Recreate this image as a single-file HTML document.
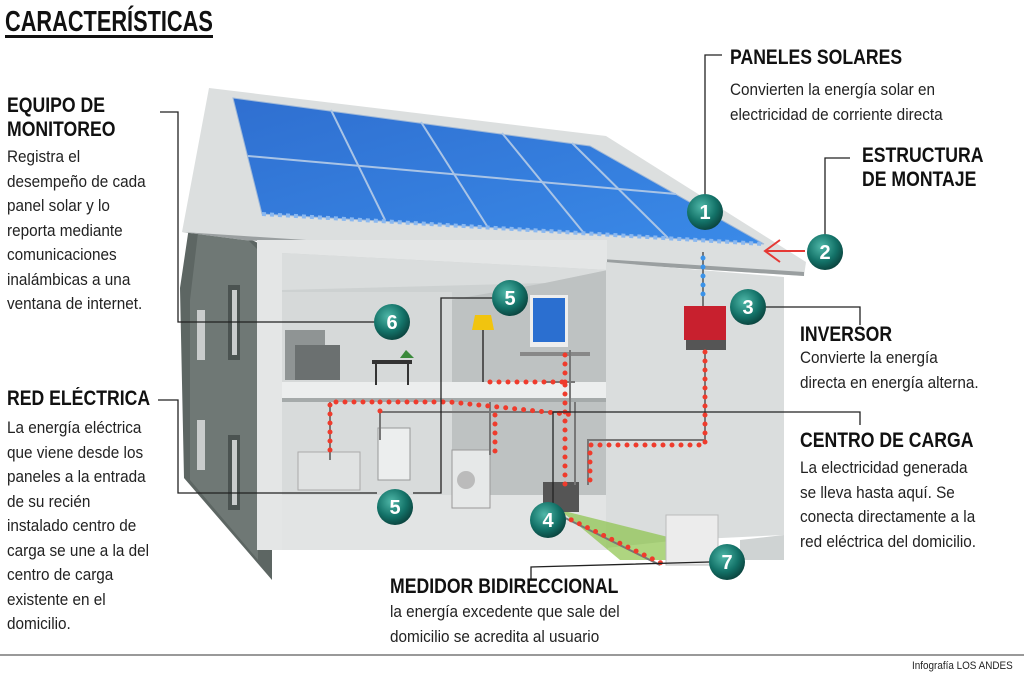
<!DOCTYPE html>
<html><head><meta charset="utf-8"><style>
body{margin:0;width:1024px;height:675px;background:#fff;position:relative;overflow:hidden;font-family:"Liberation Sans",sans-serif;color:#222}
.t{position:absolute;white-space:nowrap;transform-origin:0 0}
.h{font-weight:bold;font-size:21px;transform:scaleX(.84);color:#111;line-height:24px}
.b{font-size:17px;transform:scaleX(.9);line-height:24.5px;color:#222}
svg{position:absolute;left:0;top:0}
</style></head><body>
<svg width="1024" height="675" viewBox="0 0 1024 675">
<defs>
<linearGradient id="pan" x1="0" y1="0" x2="1" y2="1"><stop offset="0" stop-color="#2f6fd0"/><stop offset="1" stop-color="#3a8ae8"/></linearGradient>
<radialGradient id="ball" cx=".4" cy=".35" r=".7"><stop offset="0" stop-color="#4fb7a8"/><stop offset=".6" stop-color="#137268"/><stop offset="1" stop-color="#0a3f3a"/></radialGradient>
</defs>
<polygon points="209,92 244,236 272,250 272,580 184,478 180,288" fill="#5d6663"/>
<polygon points="190,300 209,140 244,236 258,250 258,560 190,480" fill="#6f7875"/>
<polygon points="209,88 606,136 806,262 804,276 244,240 182,232" fill="#dcdfdf"/>
<polygon points="182,232 244,240 804,276 804,272 244,236" fill="#9a9fa0"/>
<polygon points="233,98 590,146 764,244 262,214" fill="url(#pan)" stroke="#9fb8d8" stroke-width="1"/>
<g stroke="#a9c4e6" stroke-width="2">
<line x1="331" y1="110" x2="385" y2="220"/><line x1="421" y1="122" x2="487" y2="226"/><line x1="502" y1="133" x2="583" y2="232"/><line x1="572" y1="143" x2="668" y2="238"/>
<line x1="248" y1="156" x2="676" y2="194"/>
</g>
<line x1="262" y1="214" x2="764" y2="244" stroke="#8ab8f0" stroke-width="4" stroke-dasharray="4 4"/>
<rect x="257" y="240" width="350" height="310" fill="#e4e6e6"/>
<polygon points="282,253 608,270 608,545 282,547" fill="#cdd1d1"/>
<polygon points="282,253 608,270 545,283 282,290" fill="#dadddd"/>
<polygon points="450,300 545,283 608,270 608,545 450,545" fill="#bec2c2"/>
<rect x="282" y="292" width="170" height="95" fill="#d6d9d9"/>
<rect x="282" y="400" width="170" height="95" fill="#d8dbdb"/>
<rect x="282" y="382" width="325" height="16" fill="#eceeee"/>
<rect x="282" y="398" width="325" height="4" fill="#a5aaaa"/>
<polygon points="282,495 608,495 608,550 282,550" fill="#e2e4e4"/>
<polygon points="606,262 784,277 784,535 680,540 606,548" fill="#dadddd"/>
<polygon points="740,540 784,535 784,560 740,560" fill="#cfd3d3"/>
<polygon points="560,510 680,540 700,560 620,560" fill="#8bc34a" opacity=".7"/>
<rect x="228" y="285" width="12" height="75" fill="#4b5351"/><rect x="232" y="290" width="5" height="65" fill="#c9cccc"/>
<rect x="228" y="435" width="12" height="75" fill="#4b5351"/><rect x="232" y="440" width="5" height="65" fill="#c9cccc"/>
<rect x="197" y="310" width="8" height="50" fill="#c9cccc"/><rect x="197" y="420" width="8" height="50" fill="#c9cccc"/>
<rect x="285" y="330" width="40" height="50" fill="#8f9494"/><rect x="295" y="345" width="45" height="35" fill="#6b7070"/>
<rect x="372" y="360" width="40" height="4" fill="#333"/><line x1="376" y1="364" x2="376" y2="385" stroke="#333" stroke-width="2"/><line x1="408" y1="364" x2="408" y2="385" stroke="#333" stroke-width="2"/>
<polygon points="400,358 406,350 414,358" fill="#3b8a3b"/>
<polygon points="475,315 491,315 494,330 472,330" fill="#f1c40f"/><line x1="483" y1="330" x2="483" y2="382" stroke="#555" stroke-width="2"/>
<rect x="530" y="295" width="38" height="52" fill="#eee"/><rect x="533" y="298" width="32" height="44" fill="#2b6fd0"/>
<rect x="520" y="352" width="70" height="4" fill="#888"/>
<rect x="298" y="452" width="62" height="38" fill="#e0e2e2" stroke="#aaa"/>
<rect x="378" y="428" width="32" height="52" fill="#eceeee" stroke="#999"/>
<rect x="452" y="450" width="38" height="58" fill="#e6e8e8" stroke="#999"/><circle cx="466" cy="480" r="9" fill="#bbb"/>
<rect x="543" y="482" width="36" height="30" fill="#555"/>
<rect x="666" y="515" width="52" height="50" fill="#ececec" stroke="#bbb"/>
<rect x="684" y="306" width="42" height="34" fill="#c8202e"/><rect x="686" y="340" width="40" height="10" fill="#555"/>
<g fill="none" stroke="#777" stroke-width="2">
<path d="M703 252 V306"/><path d="M705 350 V440 H588 V485"/><path d="M570 350 V412 H380 V440 M330 402 V460 M575 402 V485 M490 402 V455 M545 382 H575"/><path d="M553 512 L660 565"/>
</g>
<g fill="none" stroke="#ef3b2c" stroke-width="5" stroke-linecap="round" stroke-dasharray="0 9">
<path d="M705 352 V445 H590 V485"/><path d="M565 355 V385 M490 382 H565 M565 385 V485"/><path d="M330 450 V402 H380 M380 402 V420 M380 402 H450 L575 415 M495 415 V455"/><path d="M555 512 L665 565"/>
</g>
<g fill="none" stroke="#3a93ea" stroke-width="5" stroke-linecap="round" stroke-dasharray="0 9"><path d="M703 258 V302"/></g>
<g stroke="#e53935" stroke-width="2" fill="none"><line x1="765" y1="251" x2="805" y2="251"/><polyline points="780,240 765,251 780,262"/></g>
<g fill="none" stroke="#222" stroke-width="1.3">
<polyline points="705,195 705,55 722,55"/>
<polyline points="825,236 825,158 850,158"/>
<polyline points="766,307 860,307 860,325"/>
<polyline points="160,112 178,112 178,322 376,322"/>
<polyline points="492,298 441,298 441,493 413,493"/>
<polyline points="158,400 178,400 178,493 377,493"/>
<polyline points="553,505 553,412 860,412 860,425"/>
<polyline points="709,562 531,567 531,580"/>
</g>
<g font-family="Liberation Sans" font-weight="bold" font-size="20" fill="#fff" text-anchor="middle">
<circle cx="705" cy="212" r="18" fill="url(#ball)"/><text x="705" y="219">1</text>
<circle cx="825" cy="252" r="18" fill="url(#ball)"/><text x="825" y="259">2</text>
<circle cx="748" cy="307" r="18" fill="url(#ball)"/><text x="748" y="314">3</text>
<circle cx="548" cy="520" r="18" fill="url(#ball)"/><text x="548" y="527">4</text>
<circle cx="510" cy="298" r="18" fill="url(#ball)"/><text x="510" y="305">5</text>
<circle cx="395" cy="507" r="18" fill="url(#ball)"/><text x="395" y="514">5</text>
<circle cx="392" cy="322" r="18" fill="url(#ball)"/><text x="392" y="329">6</text>
<circle cx="727" cy="562" r="18" fill="url(#ball)"/><text x="727" y="569">7</text>
</g>
<rect x="5" y="35" width="208" height="3" fill="#111"/>
<line x1="0" y1="655" x2="1024" y2="655" stroke="#333" stroke-width="1"/>
</svg>
<div class="t h" style="left:5px;top:7px;font-size:29px;line-height:30px;transform:scaleX(.75)">CARACTERÍSTICAS</div>
<div class="t h" style="left:7px;top:94px">EQUIPO DE<br>MONITOREO</div>
<div class="t b" style="left:7px;top:145px">Registra el<br>desempeño de cada<br>panel solar y lo<br>reporta mediante<br>comunicaciones<br>inalámbicas a una<br>ventana de internet.</div>
<div class="t h" style="left:7px;top:387px">RED ELÉCTRICA</div>
<div class="t b" style="left:7px;top:416px">La energía eléctrica<br>que viene desde los<br>paneles a la entrada<br>de su recién<br>instalado centro de<br>carga se une a la del<br>centro de carga<br>existente en el<br>domicilio.</div>
<div class="t h" style="left:730px;top:46px">PANELES SOLARES</div>
<div class="t b" style="left:730px;top:78px">Convierten la energía solar en<br>electricidad de corriente directa</div>
<div class="t h" style="left:862px;top:144px">ESTRUCTURA<br>DE MONTAJE</div>
<div class="t h" style="left:800px;top:323px">INVERSOR</div>
<div class="t b" style="left:800px;top:346px">Convierte la energía<br>directa en energía alterna.</div>
<div class="t h" style="left:800px;top:429px">CENTRO DE CARGA</div>
<div class="t b" style="left:800px;top:456px">La electricidad generada<br>se lleva hasta aquí. Se<br>conecta directamente a la<br>red eléctrica del domicilio.</div>
<div class="t h" style="left:390px;top:575px">MEDIDOR BIDIRECCIONAL</div>
<div class="t b" style="left:390px;top:600px">la energía excedente que sale del<br>domicilio se acredita al usuario</div>
<div class="t" style="left:912px;top:660px;font-size:11px;transform:scaleX(.9)">Infografía LOS ANDES</div>
</body></html>
